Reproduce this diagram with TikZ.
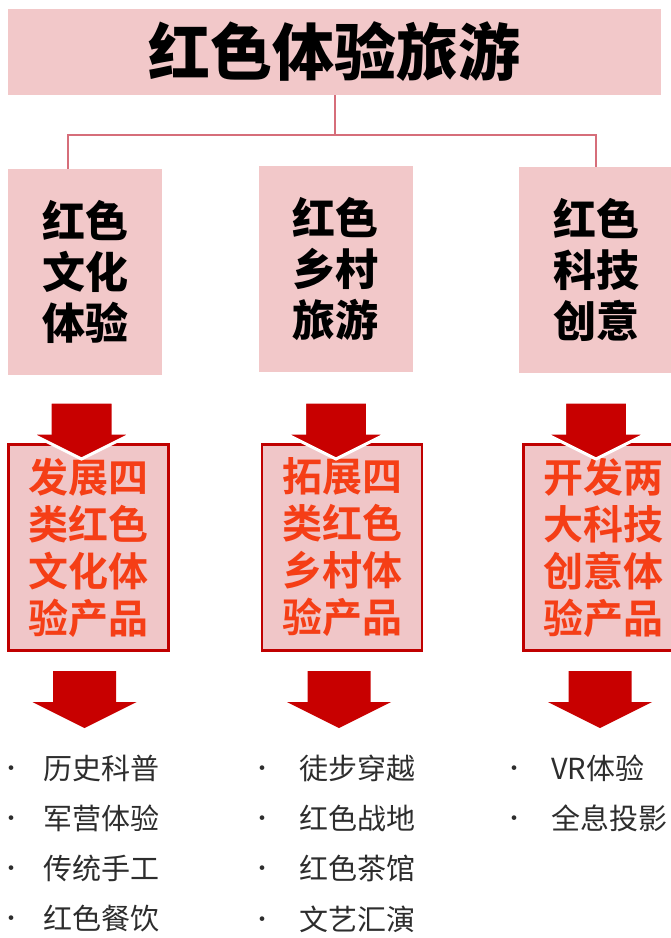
\documentclass[tikz,border=0pt]{standalone}
\usepackage{fontspec}
\setmainfont{Noto Sans CJK SC}[BoldFont={Noto Sans CJK SC Bold}]
\newfontfamily\heavyfont{Noto Sans CJK SC Black}
\usetikzlibrary{positioning}

\definecolor{pinkfill}{RGB}{242,200,201}
\definecolor{linkred}{RGB}{214,110,122}
\definecolor{darkred}{RGB}{192,0,0}
\definecolor{goalfill}{RGB}{240,198,200}
\definecolor{goaltext}{RGB}{245,62,22}
\definecolor{arrowred}{RGB}{200,0,0}
\definecolor{itemgray}{RGB}{45,45,45}

\begin{document}
\begin{tikzpicture}[x=1pt, y=-1pt,
		topbox/.style={fill=pinkfill, minimum width=653pt, minimum height=86pt, inner sep=0pt, font=\heavyfont\fontsize{62}{62}\selectfont},
		themebox/.style={fill=pinkfill, minimum width=154pt, minimum height=206pt, inner sep=0pt, align=center, font=\heavyfont\fontsize{43}{51}\selectfont},
		goalbox/.style={draw=darkred, line width=2.5pt, fill=goalfill, text=goaltext, minimum width=160pt, minimum height=206pt, inner sep=0pt, align=center, font=\bfseries\fontsize{40}{47}\selectfont},
		bigarrow/.pic={\path[pic actions] (-31.5,0) -- (31.5,0) -- (31.5,31) -- (52,31) -- (0,57) -- (-52,31) -- (-31.5,31) -- cycle;},
		item/.style={anchor=west, inner sep=0pt, text=itemgray, font=\fontsize{29}{29}\selectfont},
		link/.style={draw=linkred, line width=2pt}]
				\useasboundingbox (0,0) rectangle (671,938);
				\clip (0,0) rectangle (671,938);
				% title and the three themes
				\node[topbox] (title) at (334.5,52) {红色体验旅游};
				\node[themebox] (culture) at (85,272) {红色\\文化\\体验};
				\node[themebox] (village) at (335.5,269) {红色\\乡村\\旅游};
				\node[themebox] (tech) at (596,270) {红色\\科技\\创意};
				\coordinate (bus) at (332,135);
				\draw[link] (title.south) -- (title.south |- bus);
				\draw[link] ([xshift=-17pt]culture.north) |- (tech.north |- bus) -- (tech.north);
				% products
				\node[goalbox] (cgoal) at (88.5,547.5) {发展四\\类红色\\文化体\\验产品};
				\node[goalbox] (vgoal) at (342,547.5) {拓展四\\类红色\\乡村体\\验产品};
				\node[goalbox] (tgoal) at (603.5,547.5) {开发两\\大科技\\创意体\\验产品};
				\pic[fill=arrowred, draw=white, line width=3pt] (ca1) at (81.5,402) {bigarrow};
				\pic[fill=arrowred, draw=white, line width=3pt] (va1) at (336,402) {bigarrow};
				\pic[fill=arrowred, draw=white, line width=3pt] (ta1) at (596,402) {bigarrow};
				\pic[fill=arrowred] (ca2) at (84.5,671) {bigarrow};
				\pic[fill=arrowred] (va2) at (339,671) {bigarrow};
				\pic[fill=arrowred] (ta2) at (600,671) {bigarrow};
				% item lists
				\node[item] (c1) at (0,768) {\makebox[43pt][l]{\raisebox{3pt}{\fontsize{22}{22}\selectfont•}}历史科普};
				\node[item] (c2) at (0,818) {\makebox[43pt][l]{\raisebox{3pt}{\fontsize{22}{22}\selectfont•}}军营体验};
				\node[item] (c3) at (0,868) {\makebox[43pt][l]{\raisebox{3pt}{\fontsize{22}{22}\selectfont•}}传统手工};
				\node[item] (c4) at (0,919) {\makebox[43pt][l]{\raisebox{3pt}{\fontsize{22}{22}\selectfont•}}红色餐饮};
				\node[item] (v1) at (251,768) {\makebox[48pt][l]{\raisebox{3pt}{\fontsize{22}{22}\selectfont•}}徒步穿越};
				\node[item] (v2) at (251,818) {\makebox[48pt][l]{\raisebox{3pt}{\fontsize{22}{22}\selectfont•}}红色战地};
				\node[item] (v3) at (251,868) {\makebox[48pt][l]{\raisebox{3pt}{\fontsize{22}{22}\selectfont•}}红色茶馆};
				\node[item] (v4) at (251,919) {\makebox[48pt][l]{\raisebox{3pt}{\fontsize{22}{22}\selectfont•}}文艺汇演};
				\node[item] (t1) at (503,768) {\makebox[48pt][l]{\raisebox{3pt}{\fontsize{22}{22}\selectfont•}}VR体验};
				\node[item] (t2) at (503,818) {\makebox[48pt][l]{\raisebox{3pt}{\fontsize{22}{22}\selectfont•}}全息投影};
			\end{tikzpicture}
\end{document}
